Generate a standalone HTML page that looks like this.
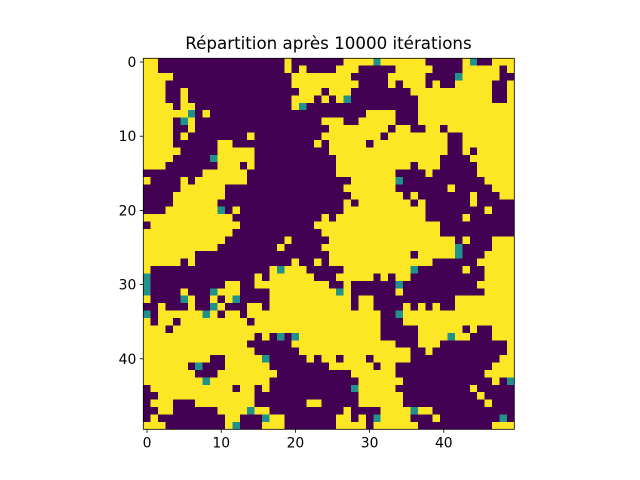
<!DOCTYPE html>
<html><head><meta charset="utf-8"><style>
body{margin:0;background:#fff;}
svg{display:block;font-family:"DejaVu Sans","Liberation Sans",sans-serif;}
</style></head><body>
<svg id="chart" width="640" height="480">
<text x="328.5" y="49" text-anchor="middle" font-size="16.7" fill="#000">Répartition après 10000 itérations</text>
<g id="cells" shape-rendering="crispEdges"></g>
<g id="axes"></g>
</svg>
<script>
const rowsA = [
"22000000000000000","22000000000000000","22220000000000000","22200000000000000","22200200000000000",
"22200200000000000","22220220000000000","22222210200000000","22220120000000000","22220020000000000",
"22220200000000200","22220000002200000","22222000002222200","22220000012222200","22200000002220200",
"00000000222222000","20000202222222000","00000222222000000","00002222222000000","00002222220000000",
"00022222221020000","22222222222200000","02222222222220000","22222222222200000","22222222222000000",
"22222222220000000","22222220000000000","22222020000000000","20000000000000000","10000000000000020",
"10000000000220022","10000200012220000","20000120020210000","00200020012000220","10222222120220222",
"20220222222222022","22202222222222222","22222222222222202","22222222222222000","22222222222222200",
"22222222200222221","22222201000222222","22222220002222222","22222222122222222","02222222222202202",
"00222222222222200","02220002222222200","00220000002222122","02000000000220001","22200000000210002"];
const rowsB = [
"00200000002222122","00202000022200000","00022222222000002","00022222222200002","00002220222000000",
"00022202021000000","00021000000000000","00000000000002222","00000002220022222","00000000222222220",
"00000002222222202","00000020222220222","00000000222222222","00000000022222222","00000000022222222",
"00000000022222222","00000000000222222","00000000002222222","00000000000222222","00000000002022222",
"00000000002222222","00000002022222222","00000022222222222","00000002222222222","00200000222222222",
"02000002222222222","00000000222222222","00020020222222222","21222000002222222","22222200022222020",
"22222222002000000","22222222212000000","22222222222022000","22222222222022000","22222222222222200",
"22222222222222200","22222222222222200","01012222222222200","00022222222222222","00002222222222222",
"00000202202220222","00000000222222022","20000000000222222","00000000000022222","00000000000122222",
"00000000000022222","00000220000022222","00000000002000022","22000000022020122","22000000022220222"];
const rowsC = [
"2222000002100222","2222200002222202","2222000012222200","0222020022222002","0022222222222002",
"0002222222222002","0002222222222222","0002222222222222","0002222222222222","2200220222222222",
"2222222002222222","2222222002222222","2222222002022222","2222220000222222","2202220000022222",
"0000200000022222","1000000000002222","0000000200000222","2020000000200022","2202000000200000",
"2222000000002000","2222000002000000","2222220000000000","2222220000000000","2222222202000222",
"2222222210000222","2202222210002222","2222200000022222","2210000002002222","2200000000002222",
"1000000000022222","2000000000002222","0000000022222222","0202020022222222","1222222222222222",
"0222222222222222","0002222220200222","0002222122000222","0002220000000002","2200200000000002",
"2200000000000022","0000000000000222","0000000000002222","2000000000000201","0000000000200000",
"2000000000020000","2000000000002000","2212200000000000","2200020000000010","2220000000000222"];
const xTicks = [0,10,20,30,40];
const yTicks = [0,10,20,30,40];
const N = 50;
const colors = ["#440154","#21918c","#fde725"];
const plotLeft = 143.3, plotTop = 58.3, plotSize = 371;
const cw = plotSize / N;
const xs = c => plotLeft + c * cw;
const ys = r => plotTop + r * cw;
const NS = "http://www.w3.org/2000/svg";
const cells = document.getElementById('cells');
for (let r = 0; r < N; r++) {
  const row = (rowsA[r] + rowsB[r] + rowsC[r]).padEnd(N, '0').slice(0, N);
  for (let c = 0; c < N; c++) {
    const v = +row[c];
    const el = document.createElementNS(NS, 'rect');
    el.setAttribute('x', xs(c)); el.setAttribute('y', ys(r));
    el.setAttribute('width', cw + 0.4); el.setAttribute('height', cw + 0.4);
    el.setAttribute('fill', colors[v]);
    
    
    cells.appendChild(el);
  }
}
const axes = document.getElementById('axes');
const frame = document.createElementNS(NS, 'rect');
frame.setAttribute('x', plotLeft); frame.setAttribute('y', plotTop);
frame.setAttribute('width', plotSize); frame.setAttribute('height', plotSize);
frame.setAttribute('fill', 'none'); frame.setAttribute('stroke', '#000'); frame.setAttribute('stroke-width', '0.8');


axes.appendChild(frame);
xTicks.forEach(t => {
  const x = xs(t + 0.5);
  const ln = document.createElementNS(NS, 'line');
  ln.setAttribute('x1', x); ln.setAttribute('x2', x);
  ln.setAttribute('y1', plotTop + plotSize); ln.setAttribute('y2', plotTop + plotSize + 3.5);
  ln.setAttribute('stroke', '#000'); ln.setAttribute('stroke-width', '0.8');
  
  
  axes.appendChild(ln);
  const tx = document.createElementNS(NS, 'text');
  tx.setAttribute('x', x); tx.setAttribute('y', plotTop + plotSize + 18);
  tx.setAttribute('text-anchor', 'middle'); tx.setAttribute('font-size', '13.9');
  tx.textContent = t;
  
  
  axes.appendChild(tx);
});
yTicks.forEach(t => {
  const y = ys(t + 0.5);
  const ln = document.createElementNS(NS, 'line');
  ln.setAttribute('x1', plotLeft - 3.5); ln.setAttribute('x2', plotLeft);
  ln.setAttribute('y1', y); ln.setAttribute('y2', y);
  ln.setAttribute('stroke', '#000'); ln.setAttribute('stroke-width', '0.8');
  
  
  axes.appendChild(ln);
  const tx = document.createElementNS(NS, 'text');
  tx.setAttribute('x', plotLeft - 7); tx.setAttribute('y', y + 5);
  tx.setAttribute('text-anchor', 'end'); tx.setAttribute('font-size', '13.9');
  tx.textContent = t;
  
  
  axes.appendChild(tx);
});
</script>
</body></html>
